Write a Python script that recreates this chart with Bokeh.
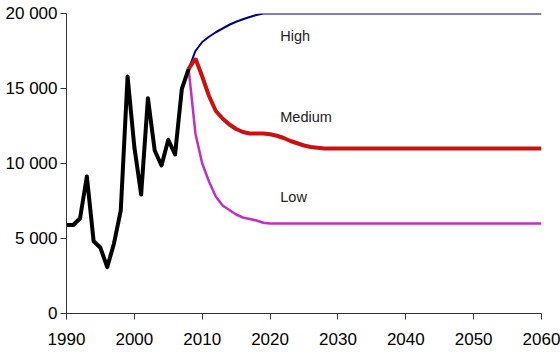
from bokeh.plotting import figure
from bokeh.models import Range1d, Label
from bokeh.embed import file_html
from bokeh.resources import INLINE

hist_years = list(range(1990, 2009))
hist_vals = [5900, 5900, 6350, 9130, 4820, 4380, 3090, 4670, 6870, 15800,
             11090, 7930, 14350, 10870, 9870, 11580, 10600, 14980, 16310]

proj_years = list(range(2008, 2061))
high_head = [16310, 17500, 18100, 18450, 18750, 19000, 19250, 19450, 19620,
             19770, 19900, 20000]
medium_head = [16310, 17000, 15800, 14500, 13500, 13000, 12600, 12300, 12100,
               12000, 12000, 12000, 11950, 11850, 11700, 11500, 11350, 11200,
               11100, 11050, 11000]
low_head = [16310, 12000, 10000, 8800, 7800, 7200, 6900, 6600, 6400, 6300,
            6200, 6050, 6000]
high_vals = high_head + [20000] * (len(proj_years) - len(high_head))
medium_vals = medium_head + [11000] * (len(proj_years) - len(medium_head))
low_vals = low_head + [6000] * (len(proj_years) - len(low_head))

scenario_labels = ["High", "Medium", "Low"]
label_years = [2021.5, 2021.5, 2021.5]
label_vals = [18530, 13090, 7750]

x_ticks = list(range(1990, 2061, 10))
y_ticks = [0, 5000, 10000, 15000, 20000]
y_tick_labels = ["0", "5 000", "10 000", "15 000", "20 000"]

p = figure(width=560, height=352, output_backend="svg", toolbar_location=None,
           x_range=Range1d(1990, 2060), y_range=Range1d(0, 20000),
           min_border_left=66, min_border_right=19, min_border_top=13,
           min_border_bottom=39)
p.outline_line_color = None
p.grid.visible = False
p.background_fill_color = "white"
p.border_fill_color = "white"

p.line(proj_years, high_vals, line_color="#000080", line_width=2)
p.line(proj_years, low_vals, line_color="#C030C0", line_width=2.5)
p.line(proj_years, medium_vals, line_color="#CC1010", line_width=4)
p.line(hist_years, hist_vals, line_color="black", line_width=4, line_join="round")

for t, xv, yv in zip(scenario_labels, label_years, label_vals):
    p.add_layout(Label(x=xv, y=yv, text=t, text_font="Liberation Sans",
                       text_font_size="14.5px", text_color="#222222",
                       text_baseline="middle"))

for ax in (p.xaxis[0], p.yaxis[0]):
    ax.axis_line_color = "#333333"
    ax.major_tick_line_color = "#333333"
    ax.major_tick_out = 6
    ax.major_tick_in = 0
    ax.minor_tick_line_color = None
    ax.major_label_text_font = "Liberation Sans"
    ax.major_label_text_font_size = "17px"
    ax.major_label_text_color = "black"

p.xaxis.ticker = x_ticks
p.yaxis.ticker = y_ticks
p.yaxis.major_label_overrides = {v: s for v, s in zip(y_ticks, y_tick_labels)}
p.xaxis.major_label_standoff = 13
p.yaxis.major_label_standoff = 3

open("out.html", "w").write(file_html(p, INLINE))
